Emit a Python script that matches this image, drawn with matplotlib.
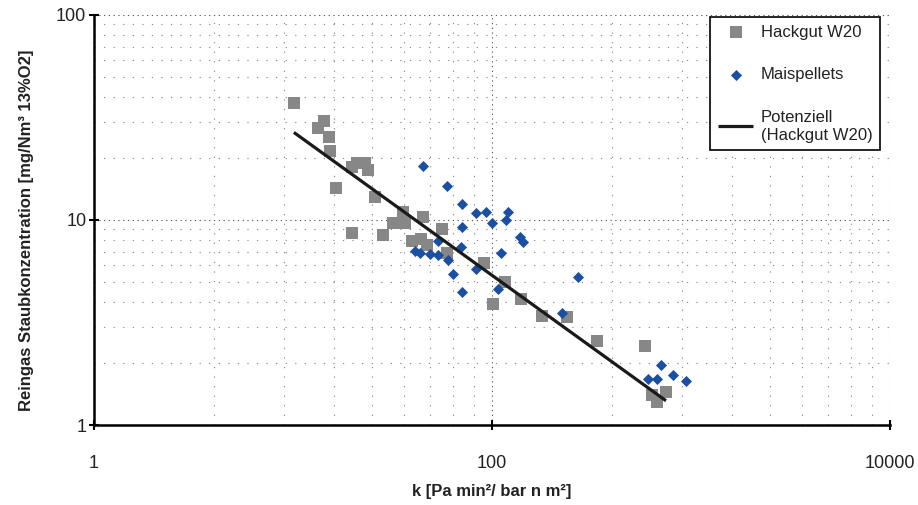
import numpy as np
import matplotlib
matplotlib.use('Agg')
import matplotlib.pyplot as plt
from matplotlib.ticker import FixedLocator, NullFormatter, FixedFormatter

plt.rcParams['font.family'] = ['Liberation Sans', 'DejaVu Sans']

# ---- data ----
hack_k = [10.1, 14.3, 13.4, 15.2, 15.3, 19.8, 21.0, 23.0, 23.8, 16.4, 25.8,
          35.7, 31.8, 36.5, 45.0, 56.1, 19.8, 28.3, 39.6, 44.0, 47.1, 59.4,
          91.2, 116, 101, 140, 178, 238, 337, 587, 637, 675, 749]
hack_c = [37.2, 30.4, 28.1, 25.4, 21.7, 18.1, 19.0, 19.0, 17.5, 14.3, 12.9,
          10.9, 9.67, 9.67, 10.3, 9.04, 8.64, 8.45, 7.90, 8.08, 7.55, 6.90,
          6.17, 4.99, 3.89, 4.12, 3.40, 3.36, 2.57, 2.43, 1.40, 1.29, 1.45]

mais_k = [45.0, 59.4, 70.7, 83.1, 93.3, 120, 118, 100, 70.7, 138, 143, 53.5,
          69.8, 41.0, 43.5, 48.8, 53.5, 60.1, 111, 83.1, 63.7, 270, 107, 70.7,
          225, 707, 608, 675, 812, 944]
mais_c = [18.3, 14.7, 12.0, 10.8, 10.9, 10.9, 10.0, 9.67, 9.24, 8.26, 7.81, 7.90,
          7.38, 7.06, 6.90, 6.83, 6.75, 6.38, 6.90, 5.77, 5.45, 5.27, 4.61, 4.45,
          3.52, 1.96, 1.68, 1.68, 1.75, 1.64]

# power trend line y = a * x^b (Potenziell, Hackgut W20)
trend_a = 135.0
trend_b = -0.70

x_ticks = [1, 100, 10000]
x_ticklabels = ['1', '100', '10000']
y_ticks = [1, 10, 100]
y_ticklabels = ['1', '10', '100']

series_labels = ['Hackgut W20', 'Maispellets', 'Potenziell\n(Hackgut W20)']
x_label = 'k [Pa min²/ bar n m²]'
y_label = 'Reingas Staubkonzentration [mg/Nm³ 13%O2]'

# ---- figure ----
fig = plt.figure(figsize=(9.18, 5.05), dpi=100)
ax = fig.add_axes([94 / 918, 1 - 425 / 505, 796 / 918, 410 / 505])
ax.set_xscale('log')
ax.set_yscale('log')
ax.set_xlim(1, 10000)
ax.set_ylim(1, 100)

ax.scatter(hack_k, hack_c, marker='s', s=85, color='#878787', linewidths=0,
           label=series_labels[0], zorder=3)
ax.scatter(mais_k, mais_c, marker='D', s=32, color='#1a4fa3', linewidths=0,
           label=series_labels[1], zorder=4)

tx = np.array([min(hack_k), max(hack_k)])
ax.plot(tx, trend_a * tx ** trend_b, color='#1a1a1a', lw=2.3,
        label=series_labels[2], zorder=5, solid_capstyle='butt')

# ticks
ax.xaxis.set_major_locator(FixedLocator(x_ticks))
ax.xaxis.set_major_formatter(FixedFormatter(x_ticklabels))
ax.yaxis.set_major_locator(FixedLocator(y_ticks))
ax.yaxis.set_major_formatter(FixedFormatter(y_ticklabels))
xminor = [k * k * 100 ** n for n in range(2) for k in range(2, 10)]
yminor = [k * 10 ** n for n in range(2) for k in range(2, 10)]
ax.xaxis.set_minor_locator(FixedLocator(xminor))
ax.yaxis.set_minor_locator(FixedLocator(yminor))
ax.xaxis.set_minor_formatter(NullFormatter())
ax.yaxis.set_minor_formatter(NullFormatter())

ax.tick_params(which='major', direction='inout', length=7, width=1.5,
               colors='black', labelsize=13, labelcolor='#222222')
ax.tick_params(axis='x', which='major', pad=18)
ax.tick_params(axis='y', which='major', pad=2)
ax.tick_params(which='minor', length=0)

ax.grid(which='major', linestyle=(0, (1.1, 3.2)), color='#555555', lw=0.8)
ax.grid(which='minor', linestyle=(0, (1.1, 7.5)), color='#8a8a8a', lw=0.8)
ax.set_axisbelow(True)

for s in ['top', 'right']:
    ax.spines[s].set_visible(False)
for s in ['left', 'bottom']:
    ax.spines[s].set_linewidth(1.8)
    ax.spines[s].set_color('black')

ax.set_xlabel(x_label, fontsize=12, fontweight='bold', color='#222222')
ax.set_ylabel(y_label, fontsize=12, fontweight='bold', color='#222222')
ax.xaxis.set_label_coords(0.5, -0.145)
ax.yaxis.set_label_coords(-0.076, 0.476)

leg = ax.legend(loc='upper left', bbox_to_anchor=(0.774, 0.995),
                frameon=True, fancybox=False, edgecolor='black', framealpha=1,
                borderpad=0.45, labelspacing=1.65, handlelength=2.15,
                handletextpad=0.45, fontsize=12, borderaxespad=0,
                scatterpoints=1, markerscale=1.0)
leg.get_frame().set_linewidth(1.2)
for t in leg.get_texts():
    t.set_color('#222222')
    t.set_linespacing(1.27)

fig.savefig('out.png', dpi=100)
